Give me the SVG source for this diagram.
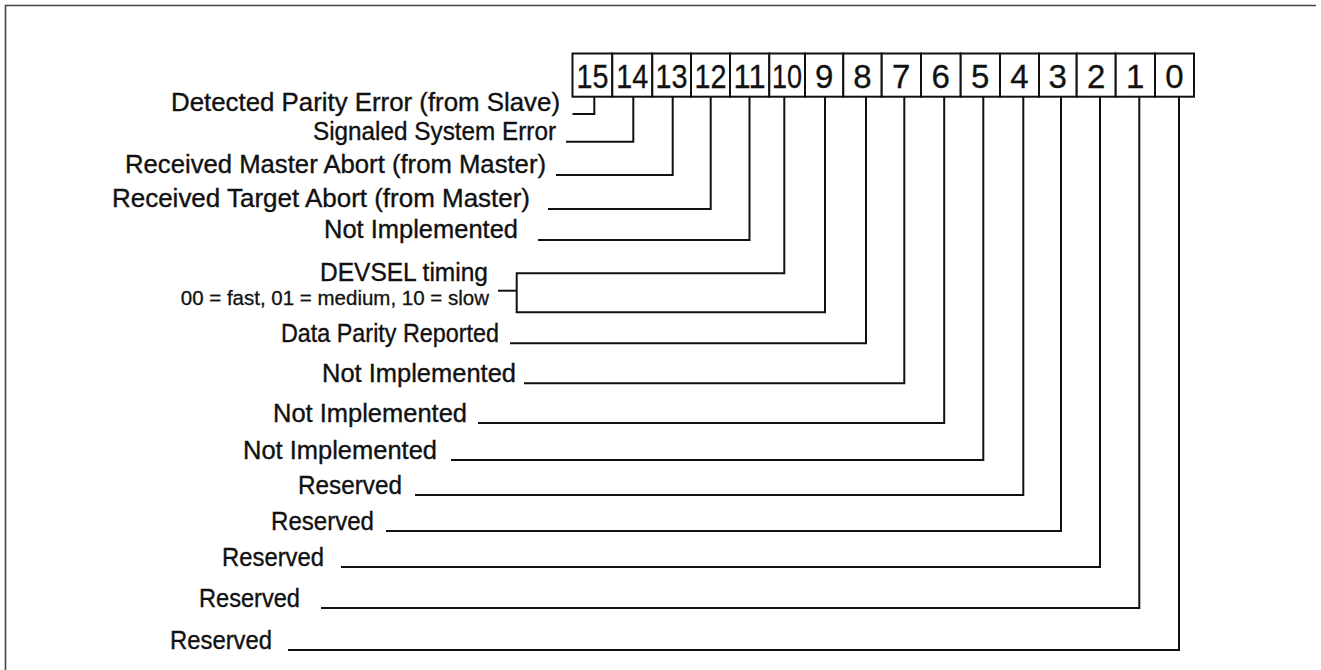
<svg xmlns="http://www.w3.org/2000/svg" width="1321" height="670" viewBox="0 0 1321 670">
<style>
.frame{fill:none;stroke:#444;stroke-width:1.6}
.cell{fill:#fff;stroke:#111;stroke-width:2}
.num{font-family:"Liberation Sans",Arial,sans-serif;font-size:33px;fill:#111;stroke:#111;stroke-width:0.3;text-anchor:middle}
.lbl{font-family:"Liberation Sans",Arial,sans-serif;font-size:25px;fill:#111;stroke:#111;stroke-width:0.35}
.sm{font-family:"Liberation Sans",Arial,sans-serif;font-size:20.5px;fill:#111;stroke:#111;stroke-width:0.3;text-anchor:end}
.con{fill:none;stroke:#111;stroke-width:2;stroke-linejoin:miter}
</style>
<rect width="1321" height="670" fill="#fff"/>
<g id="frame"><path class="frame" d="M5.5,670 V5.5 H1316"/></g>
<g id="register">
<g id="bit15"><rect class="cell" x="572.5" y="53.5" width="39.8" height="43.2"/><text class="num" x="592.4" y="87.5" textLength="32" lengthAdjust="spacingAndGlyphs">15</text></g>
<g id="bit14"><rect class="cell" x="612.3" y="53.5" width="40" height="43.2"/><text class="num" x="632.3" y="87.5" textLength="32" lengthAdjust="spacingAndGlyphs">14</text></g>
<g id="bit13"><rect class="cell" x="652.3" y="53.5" width="38.7" height="43.2"/><text class="num" x="671.6" y="87.5" textLength="32" lengthAdjust="spacingAndGlyphs">13</text></g>
<g id="bit12"><rect class="cell" x="691" y="53.5" width="39" height="43.2"/><text class="num" x="710.5" y="87.5" textLength="32" lengthAdjust="spacingAndGlyphs">12</text></g>
<g id="bit11"><rect class="cell" x="730" y="53.5" width="39.3" height="43.2"/><text class="num" x="749.6" y="87.5" textLength="32" lengthAdjust="spacingAndGlyphs">11</text></g>
<g id="bit10"><rect class="cell" x="769.3" y="53.5" width="35.7" height="43.2"/><text class="num" x="787.1" y="87.5" textLength="30" lengthAdjust="spacingAndGlyphs">10</text></g>
<g id="bit9"><rect class="cell" x="805" y="53.5" width="38.3" height="43.2"/><text class="num" x="824.2" y="87.5">9</text></g>
<g id="bit8"><rect class="cell" x="843.3" y="53.5" width="38.4" height="43.2"/><text class="num" x="862.5" y="87.5">8</text></g>
<g id="bit7"><rect class="cell" x="881.7" y="53.5" width="39.3" height="43.2"/><text class="num" x="901.3" y="87.5">7</text></g>
<g id="bit6"><rect class="cell" x="921" y="53.5" width="39.7" height="43.2"/><text class="num" x="940.8" y="87.5">6</text></g>
<g id="bit5"><rect class="cell" x="960.7" y="53.5" width="39.3" height="43.2"/><text class="num" x="980.3" y="87.5">5</text></g>
<g id="bit4"><rect class="cell" x="1000" y="53.5" width="39" height="43.2"/><text class="num" x="1019.5" y="87.5">4</text></g>
<g id="bit3"><rect class="cell" x="1039" y="53.5" width="37.7" height="43.2"/><text class="num" x="1057.8" y="87.5">3</text></g>
<g id="bit2"><rect class="cell" x="1076.7" y="53.5" width="39" height="43.2"/><text class="num" x="1096.2" y="87.5">2</text></g>
<g id="bit1"><rect class="cell" x="1115.7" y="53.5" width="39.3" height="43.2"/><text class="num" x="1135.3" y="87.5">1</text></g>
<g id="bit0"><rect class="cell" x="1155" y="53.5" width="39" height="43.2"/><text class="num" x="1174.5" y="87.5">0</text></g>
</g>
<g id="labels">
<g id="lbl15"><text class="lbl" x="171" y="111" textLength="389" lengthAdjust="spacingAndGlyphs">Detected Parity Error (from Slave)</text></g>
<g id="lbl14"><text class="lbl" x="313" y="140" textLength="243" lengthAdjust="spacingAndGlyphs">Signaled System Error</text></g>
<g id="lbl13"><text class="lbl" x="125" y="173" textLength="421" lengthAdjust="spacingAndGlyphs">Received Master Abort (from Master)</text></g>
<g id="lbl12"><text class="lbl" x="112" y="207" textLength="418" lengthAdjust="spacingAndGlyphs">Received Target Abort (from Master)</text></g>
<g id="lbl11"><text class="lbl" x="324" y="238" textLength="194" lengthAdjust="spacingAndGlyphs">Not Implemented</text></g>
<g id="lbl10_9"><text class="lbl" x="320" y="281" textLength="168" lengthAdjust="spacingAndGlyphs">DEVSEL timing</text><text class="sm" x="489" y="305">00 = fast, 01 = medium, 10 = slow</text></g>
<g id="lbl8"><text class="lbl" x="281" y="342" textLength="218" lengthAdjust="spacingAndGlyphs">Data Parity Reported</text></g>
<g id="lbl7"><text class="lbl" x="322" y="382" textLength="194" lengthAdjust="spacingAndGlyphs">Not Implemented</text></g>
<g id="lbl6"><text class="lbl" x="273" y="422" textLength="194" lengthAdjust="spacingAndGlyphs">Not Implemented</text></g>
<g id="lbl5"><text class="lbl" x="243" y="459" textLength="194" lengthAdjust="spacingAndGlyphs">Not Implemented</text></g>
<g id="lbl4"><text class="lbl" x="298" y="494" textLength="104" lengthAdjust="spacingAndGlyphs">Reserved</text></g>
<g id="lbl3"><text class="lbl" x="271" y="530" textLength="103" lengthAdjust="spacingAndGlyphs">Reserved</text></g>
<g id="lbl2"><text class="lbl" x="222" y="566" textLength="102" lengthAdjust="spacingAndGlyphs">Reserved</text></g>
<g id="lbl1"><text class="lbl" x="199" y="607" textLength="101" lengthAdjust="spacingAndGlyphs">Reserved</text></g>
<g id="lbl0"><text class="lbl" x="170" y="649" textLength="102" lengthAdjust="spacingAndGlyphs">Reserved</text></g>
</g>
<g id="connectors">
<path class="con" d="M572.5,114 H594.3 V96.7"/>
<path class="con" d="M566,141.7 H633.3 V96.7"/>
<path class="con" d="M556,175 H672.7 V96.7"/>
<path class="con" d="M548,209 H710.7 V96.7"/>
<path class="con" d="M538,240 H749.5 V96.7"/>
<path class="con" d="M498,290.7 H516.7"/>
<path class="con" d="M784.3,96.7 V273.3 H516.7 V312.3 H825 V96.7"/>
<path class="con" d="M510,343.3 H866 V96.7"/>
<path class="con" d="M524,383.3 H904.3 V96.7"/>
<path class="con" d="M478,423 H944.2 V96.7"/>
<path class="con" d="M451,460 H983.3 V96.7"/>
<path class="con" d="M415,495 H1023.3 V96.7"/>
<path class="con" d="M386,531 H1061 V96.7"/>
<path class="con" d="M341,567 H1100 V96.7"/>
<path class="con" d="M321,608 H1139.3 V96.7"/>
<path class="con" d="M288,650 H1179 V96.7"/>
</g>
</svg>
